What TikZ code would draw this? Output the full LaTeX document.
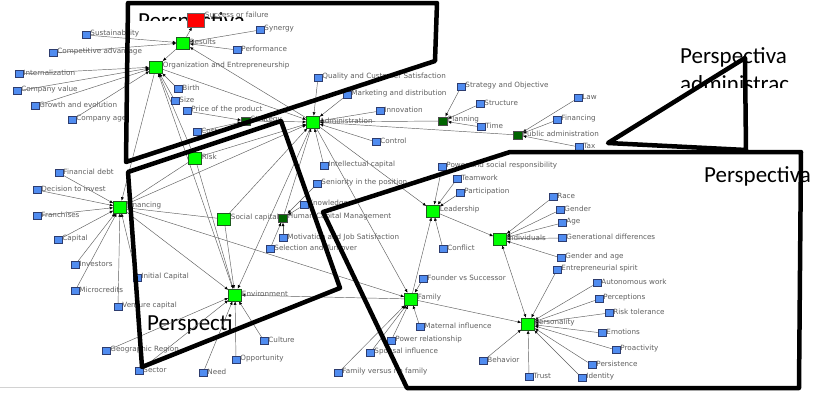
\documentclass[tikz,border=0pt]{standalone}
\usepackage{fontspec}
\setmainfont{DejaVu Sans}
\newfontfamily\bigfont{Carlito}
\usetikzlibrary{arrows.meta}
\pgfdeclarelayer{background}
\pgfdeclarelayer{fore}
\pgfsetlayers{background,main,fore}
\definecolor{bfill}{RGB}{80,140,240}
\definecolor{bdraw}{RGB}{45,60,110}
\definecolor{gfill}{RGB}{0,255,0}
\definecolor{gdraw}{RGB}{30,90,30}
\definecolor{dgfill}{RGB}{0,100,0}
\definecolor{rfill}{RGB}{255,0,0}
\definecolor{txt}{RGB}{95,95,95}
\definecolor{edgec}{RGB}{95,95,95}
\tikzset{
 bnode/.style={draw=bdraw, fill=bfill, line width=0.5pt, minimum width=8pt, minimum height=7pt, inner sep=0pt, label distance=1.5pt},
 hub/.style={draw=gdraw, fill=gfill, line width=0.5pt, minimum width=13pt, minimum height=12pt, inner sep=0pt, label distance=3pt},
 dhub/.style={draw=black!70, fill=dgfill, line width=0.5pt, minimum width=9pt, minimum height=8.5pt, inner sep=0pt, label distance=2pt},
 rnode/.style={draw=black!60, fill=rfill, line width=0.5pt, minimum width=17pt, minimum height=14pt, inner sep=0pt, label distance=2.5pt},
 lbl/.style={font=\fontsize{7.2}{8}\selectfont, text=txt, inner sep=0pt, yshift=1pt},
 ed/.style={draw=edgec, line width=0.45pt, -{Latex[length=3.5pt,width=3pt,color=black]}},
 bed/.style={draw=edgec, line width=0.45pt, {Latex[length=3.5pt,width=3pt,color=black]}-{Latex[length=3.5pt,width=3pt,color=black]}},
 poly/.style={draw=black, line width=4.5pt, line join=round},
 bigtxt/.style={font=\bigfont\fontsize{23}{28}\selectfont, text=black, inner sep=0pt, anchor=base west}
}
\newcommand\BN[4]{\node[bnode,label={[lbl]right:#4}] (#1) at (#2,#3) {};}
\newcommand\HN[4]{\node[hub,label={[lbl]right:#4}] (#1) at (#2,#3) {};}
\newcommand\DN[4]{\node[dhub,label={[lbl]right:#4}] (#1) at (#2,#3) {};}
\begin{document}
\begin{tikzpicture}[x=1pt,y=-1pt]
\useasboundingbox (0,0) rectangle (831,394);
% hubs
\node[rnode,label={[lbl,yshift=4pt]right:Success or failure}] (succ) at (196,20) {};
\HN{res}{183}{43}{Results}
\HN{org}{156}{67}{Organization and Entrepreneurship}
\HN{adm}{313}{122}{Administration}
\DN{strat}{246}{121}{Strategy}
\DN{plan}{443}{121}{Planning}
\DN{pub}{518}{135}{Public administration}
\HN{risk}{195}{158}{Risk}
\HN{fin}{120}{207}{Financing}
\HN{soc}{224}{219}{Social capital}
\DN{hcm}{283}{218}{Human Capital Management}
\HN{env}{235}{295}{Environment}
\HN{fam}{411}{299}{Family}
\HN{lead}{433}{211}{Leadership}
\HN{ind}{500}{239}{Individuals}
\HN{pers}{528}{324}{Personality}
% leaves
\BN{sust}{86}{35}{Sustainability}
\BN{comp}{53}{53}{Competitive advantage}
\BN{syn}{260}{30}{Synergy}
\BN{perf}{237}{50}{Performance}
\BN{intl}{19}{74}{Internalization}
\BN{cval}{17}{91}{Company value}
\BN{grow}{35}{106}{Growth and evolution}
\BN{cage}{72}{120}{Company age}
\BN{birth}{178}{89}{Birth}
\BN{size}{175}{101}{Size}
\BN{price}{187}{111}{Price of the product}
\BN{co}{197}{132}{Cost}
\BN{qual}{318}{78}{Quality and Customer Satisfaction}
\BN{mkt}{347}{95}{Marketing and distribution}
\BN{innov}{380}{111}{Innovation}
\BN{ctrl}{376}{142}{Control}
\BN{intel}{324}{166}{Intellectual capital}
\BN{sen}{317}{184}{Seniority in the position}
\BN{know}{304}{205}{Knowledge}
\BN{motiv}{283}{238}{Motivation and Job Satisfaction}
\BN{sel}{270}{249}{Selection and Turnover}
\BN{sobj}{461}{87}{Strategy and Objective}
\BN{struct}{480}{104}{Structure}
\BN{time}{481}{127}{Time}
\BN{law}{578}{98}{Law}
\BN{pfin}{557}{120}{Financing}
\BN{tax}{579}{147}{Tax}
\BN{fdebt}{59}{173}{Financial debt}
\BN{dinv}{37}{190}{Decision to invest}
\BN{fran}{37}{216}{Franchises}
\BN{cap}{58}{240}{Capital}
\BN{inv}{75}{265}{Investors}
\BN{micro}{75}{291}{Microcredits}
\BN{icap}{137}{278}{Initial Capital}
\BN{vcap}{118}{307}{Venture capital}
\BN{geo}{106}{351}{Geographic Region}
\BN{sector}{139}{371}{Sector}
\BN{need}{203}{373}{Need}
\BN{opp}{236}{360}{Opportunity}
\BN{cult}{264}{341}{Culture}
\BN{found}{423}{279}{Founder vs Successor}
\BN{mat}{420}{327}{Maternal influence}
\BN{power}{391}{341}{Power relationship}
\BN{spous}{370}{353}{Spousal influence}
\BN{fvn}{338}{373}{Family versus no family}
\BN{pwr}{442}{167}{Power and social responsibility}
\BN{team}{457}{179}{Teamwork}
\BN{part}{460}{193}{Participation}
\BN{conf}{443}{249}{Conflict}
\BN{race}{553}{197}{Race}
\BN{gend}{560}{210}{Gender}
\BN{age}{562}{223}{Age}
\BN{gen}{562}{238}{Generational differences}
\BN{gage}{561}{258}{Gender and age}
\BN{entr}{557}{270}{Entrepreneurial spirit}
\BN{auto}{597}{283}{Autonomous work}
\BN{perc}{599}{299}{Perceptions}
\BN{rtol}{609}{313}{Risk tolerance}
\BN{emo}{602}{333}{Emotions}
\BN{proa}{616}{350}{Proactivity}
\BN{persis}{592}{365}{Persistence}
\BN{ident}{582}{378}{Identity}
\BN{trust}{529}{377}{Trust}
\BN{behav}{483}{361}{Behavior}
\begin{pgfonlayer}{background}
 \fill[white] (0,0) rectangle (831,394);
 \begin{scope}
  \clip (130,5) rectangle (320,20);
  \node[bigtxt] (t1) at (138,28) {Perspectiva};
 \end{scope}
 \node[bigtxt] (t2) at (680,63) {Perspectiva};
 \begin{scope}
  \clip (670,70) rectangle (800,87);
  \node[bigtxt] (t3) at (680,91) {administrac};
 \end{scope}
 \node[bigtxt] (t4) at (704,182) {Perspectiva};
 \begin{scope}
  \clip (140,300) rectangle (234,345);
  \node[bigtxt] (t5) at (147,330) {Perspecti};
 \end{scope}
 \draw[gray!35, line width=0.8pt] (0,387) -- (800,387);
 % edges
 \foreach \s in {sust,comp,syn,perf,adm} \draw[ed] (\s) -- (res);
 \draw[ed] (res) -- (succ);
 \draw[ed] (res) -- (org);
 \foreach \s in {intl,cval,grow,cage,birth,size,risk,env} \draw[ed] (\s) -- (org);
 \draw[ed] (org) -- (adm);
 \draw[ed] (org) -- (fin);
 \draw[ed] (price) -- (strat);
 \draw[ed] (co) -- (strat);
 \draw[ed] (strat) -- (adm);
 \foreach \s in {qual,mkt,innov,ctrl,intel,plan,pub,hcm,soc,risk,fin} \draw[ed] (\s) -- (adm);
 \foreach \s in {sobj,struct,time} \draw[ed] (\s) -- (plan);
 \foreach \s in {law,pfin,tax} \draw[ed] (\s) -- (pub);
 \foreach \s in {sen,know,motiv,sel} \draw[ed] (\s) -- (hcm);
 \foreach \s in {fdebt,dinv,fran,cap,inv,micro,icap,vcap,risk,soc} \draw[ed] (\s) -- (fin);
 \foreach \s in {fin,risk,soc,adm,fam,geo,sector,need,opp,cult} \draw[ed] (\s) -- (env);
 \foreach \s in {fin,adm,found,mat,power,spous,fvn} \draw[ed] (\s) -- (fam);
 \draw[ed] (fam) -- (lead);
 \draw[ed] (fam) -- (pers);
 \foreach \s in {adm,pwr,team,part,conf} \draw[ed] (\s) -- (lead);
 \draw[ed] (lead) -- (ind);
 \foreach \s in {race,gend,age,gen,gage} \draw[ed] (\s) -- (ind);
 \draw[bed] (pers) -- (ind);
 \foreach \s in {entr,auto,perc,rtol,emo,proa,persis,ident,trust,behav} \draw[ed] (\s) -- (pers);
\end{pgfonlayer}
\begin{pgfonlayer}{fore}
 \draw[poly] (128,3) -- (437,3) -- (435,61) -- (126,162) -- cycle;
 \draw[poly] (608,143) -- (745,58) -- (746,150) -- cycle;
 \draw[poly] (323,212) -- (510,152) -- (801,152) -- (799,388) -- (407,388) -- cycle;
 \draw[poly] (128,172) -- (281,121) -- (340,288) -- (142,367) -- cycle;
\end{pgfonlayer}
\end{tikzpicture}
\end{document}
